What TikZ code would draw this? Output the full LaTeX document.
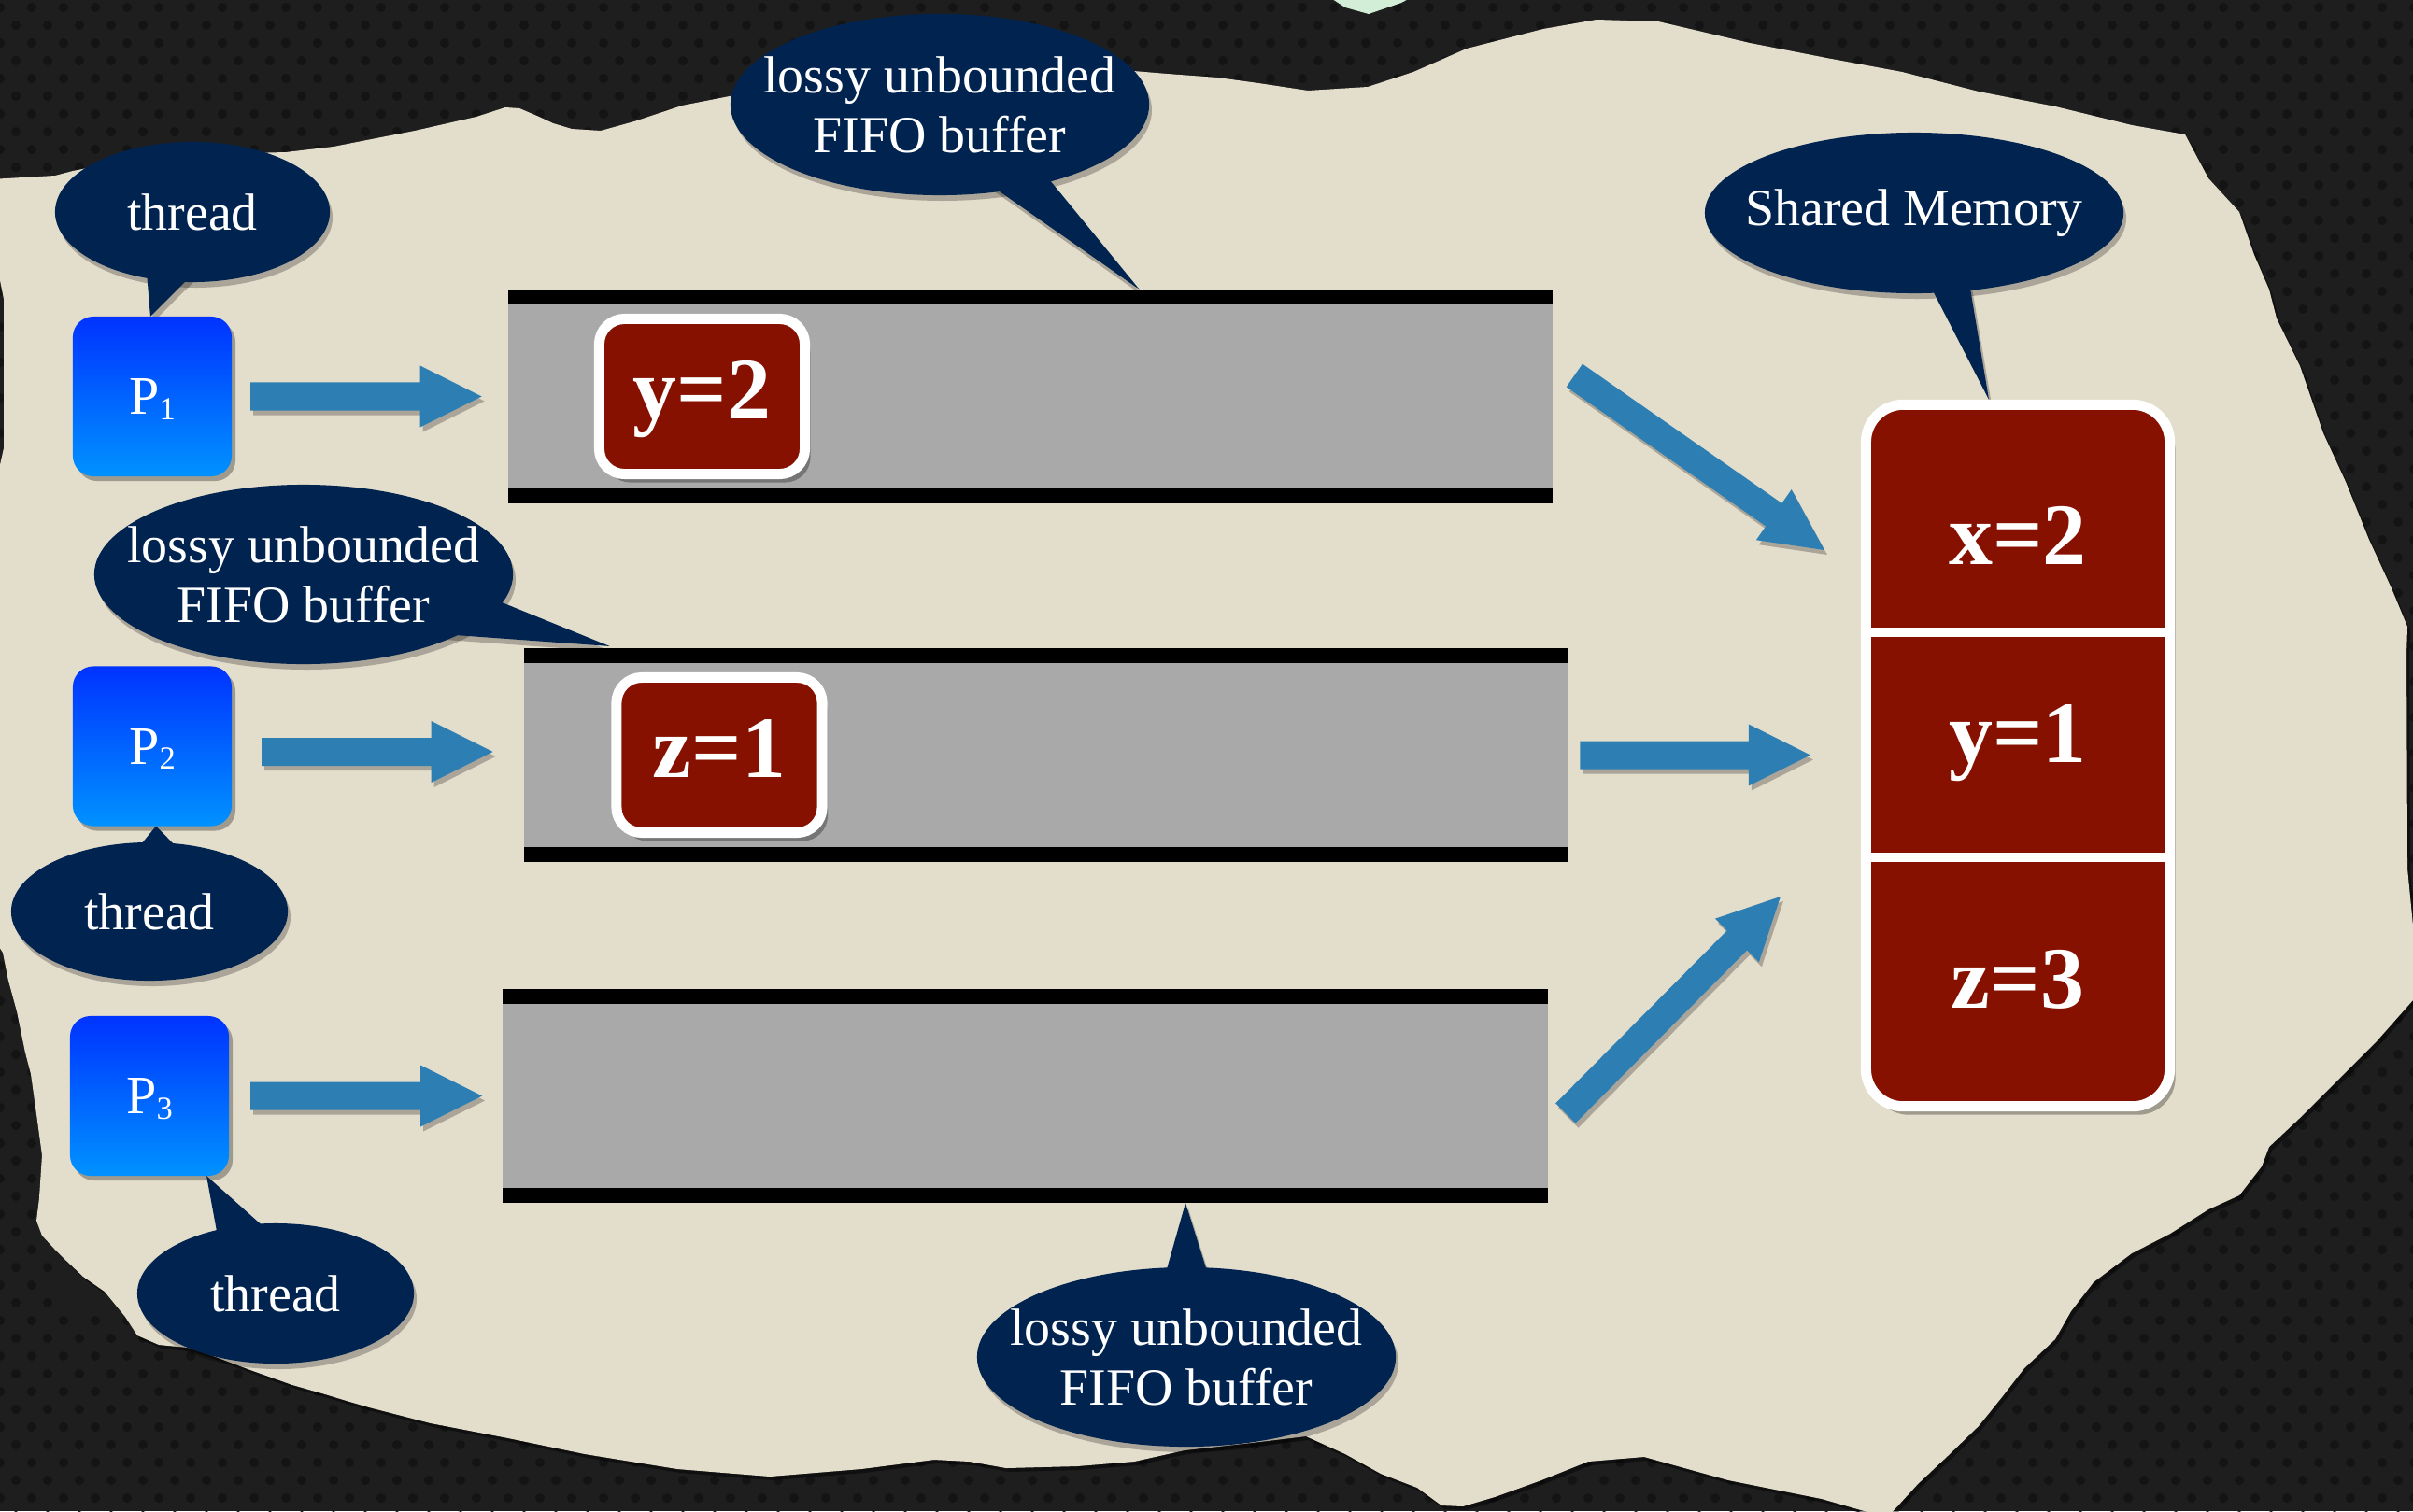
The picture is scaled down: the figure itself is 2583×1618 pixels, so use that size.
\documentclass[tikz,border=0pt]{standalone}
\usepackage{fontspec}
\setmainfont{Liberation Serif}
\usetikzlibrary{calc,shapes.geometric,shadows}

\definecolor{bgdark}{HTML}{1E1E1E}
\definecolor{bgdot}{HTML}{141414}
\definecolor{paper}{HTML}{E3DDCB}
\definecolor{navy}{HTML}{00234F}
\definecolor{memred}{HTML}{871100}
\definecolor{bufgray}{HTML}{A9A9A9}
\definecolor{arrowblue}{HTML}{2C7EB3}
\definecolor{ptop}{HTML}{0033FF}
\definecolor{pbot}{HTML}{0092FF}
\definecolor{mint}{HTML}{D3EED6}

\pgfdeclarelayer{bg}
\pgfdeclarelayer{shadow}
\pgfsetlayers{bg,shadow,main}

\tikzset{
  softshadow/.style={drop shadow={shadow xshift=0.04cm, shadow yshift=-0.05cm, opacity=0.3, fill=black}},
  deepshadow/.style={drop shadow={shadow xshift=0.06cm, shadow yshift=-0.09cm, opacity=0.3, fill=black}},
  proc/.style={rectangle, rounded corners=0.22cm, minimum width=1.70cm, minimum height=1.71cm,
    top color=ptop, bottom color=pbot, draw=none, softshadow, inner sep=0pt, outer sep=0pt},
  buffer/.style={rectangle, fill=bufgray, minimum width=11.18cm, minimum height=2.29cm,
    inner sep=0pt, outer sep=0pt},
  valbox/.style={rectangle, rounded corners=0.27cm, fill=memred, draw=white, line width=0.11cm,
    minimum width=2.20cm, minimum height=1.66cm, deepshadow, inner sep=0pt},
  membox/.style={rectangle, rounded corners=0.40cm, fill=memred, draw=white, line width=0.11cm,
    minimum width=3.25cm, minimum height=7.51cm, deepshadow, inner sep=0pt},
  bubble/.style={ellipse, fill=navy, inner sep=0pt, outer sep=0pt},
  bshadow/.style={fill=black, opacity=0.25, transform canvas={xshift=0.03cm, yshift=-0.06cm}},
  arrowshadow/.style={fill=black, opacity=0.25, transform canvas={xshift=0.03cm, yshift=-0.05cm}},
  bubbletext/.style={text=white, font=\fontsize{15.9}{18.2}\selectfont, align=center, inner sep=0pt},
  valtext/.style={text=white, font=\fontsize{26.7}{30}\selectfont\bfseries, inner sep=0pt, anchor=base},
  ptext/.style={text=white, font=\fontsize{16.5}{18}\selectfont, inner sep=0pt, anchor=base},
}

% process label with its index set as a subscript
\newcommand\proclabel[1]{P\raisebox{-1.6pt}{\fontsize{9.8}{10}\selectfont #1}}

% fat block arrow from #1 to the tip #2, with its shadow on the shadow layer
\newcommand\blockarrow[2]{%
  \coordinate (bahead) at ($(#2)!0.66cm!(#1)$);
  \begin{pgfonlayer}{shadow}
    \fill[arrowshadow] ($(#1)!0.15cm!90:(#2)$) -- ($(bahead)!0.15cm!90:(#2)$) -- ($(bahead)!0.33cm!90:(#2)$)
      -- (#2) -- ($(bahead)!0.33cm!-90:(#2)$) -- ($(bahead)!0.15cm!-90:(#2)$) -- ($(#1)!0.15cm!-90:(#2)$) -- cycle;
  \end{pgfonlayer}
  \fill[arrowblue] ($(#1)!0.15cm!90:(#2)$) -- ($(bahead)!0.15cm!90:(#2)$) -- ($(bahead)!0.33cm!90:(#2)$)
      -- (#2) -- ($(bahead)!0.33cm!-90:(#2)$) -- ($(bahead)!0.15cm!-90:(#2)$) -- ($(#1)!0.15cm!-90:(#2)$) -- cycle;
}

% torn sheet of paper
\def\paperpath{(-10,192) -- (59,188) -- (78,183) -- (153,168) -- (230,165) -- (306,163) -- (357,157)
  -- (408,147) -- (444,140) -- (510,125) -- (541,115) -- (556,116) -- (577,125) -- (592,132) -- (612,138)
  -- (643,140) -- (679,130) -- (730,113) -- (781,103) -- (850,92) -- (950,80) -- (1050,75) -- (1150,72)
  -- (1213,76) -- (1249,79) -- (1303,83) -- (1347,89) -- (1400,97) -- (1464,93) -- (1513,77) -- (1570,52)
  -- (1652,31) -- (1709,21) -- (1775,23) -- (1873,46) -- (1955,62) -- (2036,77) -- (2118,98) -- (2200,114)
  -- (2282,134) -- (2339,144) -- (2364,191) -- (2397,227) -- (2413,273) -- (2429,310) -- (2437,341)
  -- (2462,392) -- (2487,464) -- (2511,516) -- (2536,578) -- (2560,630) -- (2577,671) -- (2576,700)
  -- (2577,930) -- (2590,1063) -- (2544,1115) -- (2503,1156) -- (2462,1197) -- (2429,1228) -- (2421,1249)
  -- (2397,1280) -- (2364,1295) -- (2323,1321) -- (2282,1342) -- (2241,1373) -- (2217,1404) -- (2200,1434)
  -- (2167,1465) -- (2143,1496) -- (2118,1527) -- (2086,1558) -- (2053,1589) -- (2020,1625)
  -- (1950,1605) -- (1850,1585) -- (1760,1560) -- (1700,1565) -- (1650,1585)
  -- (1600,1603) -- (1566,1613) -- (1543,1612) -- (1517,1593) -- (1478,1578) -- (1440,1557)
  -- (1398,1538) -- (1340,1545) -- (1268,1553) -- (1214,1565) -- (1153,1570) -- (1077,1572) -- (1038,1565)
  -- (1000,1563) -- (922,1573) -- (824,1581) -- (725,1573) -- (626,1557) -- (544,1540) -- (461,1524)
  -- (395,1507) -- (371,1500) -- (348,1493) -- (313,1483) -- (268,1467) -- (223,1450) -- (201,1443)
  -- (170,1440) -- (147,1430) -- (134,1410) -- (112,1383) -- (89,1367) -- (71,1350) -- (58,1337)
  -- (45,1323) -- (39,1307) -- (42,1283) -- (45,1237) -- (40,1200) -- (33,1150) -- (27,1127) -- (18,1083)
  -- (9,1050) -- (3,1020) -- (-10,1000) -- (-5,520) -- (4,480) -- (4,320) -- (0,300) -- cycle}

\begin{document}
\begin{tikzpicture}[x=0.01cm, y=-0.01cm]
\useasboundingbox (0,0) rectangle (2583,1618);

\begin{pgfonlayer}{bg}
  % perforated dark backdrop
  \fill[bgdark] (0,0) rectangle (2583,1618);
  \foreach \r in {0,...,11} {\foreach \c in {0,...,76} {
    \fill[bgdot] ({\c*34+mod(\r,2)*17},{\r*19+8}) circle (5);}}
  \foreach \r in {74,...,85} {\foreach \c in {0,...,76} {
    \fill[bgdot] ({\c*34+mod(\r,2)*17},{\r*19+8}) circle (5);}}
  \foreach \r in {12,...,73} {\foreach \c in {0,1,64,65,66,67,68,69,70,71,72,73,74,75,76} {
    \fill[bgdot] ({\c*34+mod(\r,2)*17},{\r*19+8}) circle (5);}}
  \fill[mint] (1420,-5) -- (1515,-5) -- (1500,3) -- (1465,15) -- (1440,8) -- cycle;
  % paper
  \fill[black, opacity=0.45, transform canvas={xshift=0.03cm, yshift=-0.04cm}] \paperpath;
  \fill[paper] \paperpath;

  % the three buffers
  \node[buffer] (buf1) at (1103,424.5) {};
  \node[buffer] (buf2) at (1120,808.5) {};
  \node[buffer] (buf3) at (1097.5,1173.5) {};
  \foreach \b in {buf1,buf2,buf3} {
    \fill[black] (\b.north west) rectangle ($(\b.north east)+(0,16)$);
    \fill[black] ($(\b.south west)+(0,-16)$) rectangle (\b.south east);
  }
\end{pgfonlayer}

% processes
\node[proc] (P1) at (163,424.5) {};
\node[proc] (P2) at (163,799) {};
\node[proc] (P3) at (160,1173.5) {};
\node[ptext] (P1t) at ($(P1.center)+(0,19)$) {\proclabel{1}};
\node[ptext] (P2t) at ($(P2.center)+(0,19)$) {\proclabel{2}};
\node[ptext] (P3t) at ($(P3.center)+(0,19)$) {\proclabel{3}};

% pending writes in the buffers
\node[valbox] (v1) at (751.5,424.5) {};
\node[valtext] (v1t) at ($(v1.center)+(0,23.5)$) {y=2};
\node[valbox] (v2) at (770,808.5) {};
\node[valtext] (v2t) at ($(v2.center)+(0,23.5)$) {z=1};

% shared memory
\node[membox] (mem) at (2160,809) {};
\draw[white, line width=0.10cm] ($(mem.west)+(0,-132)$) -- ($(mem.east)+(0,-132)$);
\draw[white, line width=0.10cm] ($(mem.west)+(0,109)$) -- ($(mem.east)+(0,109)$);
\node[valtext] (mx) at ($(mem.center)+(0,-205)$) {x=2};
\node[valtext] (my) at ($(mem.center)+(0,7)$) {y=1};
\node[valtext] (mz) at ($(mem.center)+(0,270)$) {z=3};

% flow arrows
\coordinate (a1s) at ($(P1.east)+(20,0)$);
\coordinate (a1e) at ($(buf1.west)+(-28,0)$);
\blockarrow{a1s}{a1e}
\coordinate (a2s) at ($(P2.east)+(32,6)$);
\coordinate (a2e) at ($(P2.east -| buf2.west)+(-33,6)$);
\blockarrow{a2s}{a2e}
\coordinate (a3s) at ($(P3.east)+(23,0)$);
\coordinate (a3e) at ($(buf3.west)+(-22,0)$);
\blockarrow{a3s}{a3e}
\coordinate (a4s) at ($(buf1.east)+(23,-22.5)$);
\coordinate (a4e) at ($(mem.west)+(-39,-220)$);
\blockarrow{a4s}{a4e}
\coordinate (a5s) at ($(buf2.east)+(12,0)$);
\coordinate (a5e) at ($(buf2.east -| mem.west)+(-54,0)$);
\blockarrow{a5s}{a5e}
\coordinate (a6s) at ($(buf3.east)+(19,18.5)$);
\coordinate (a6e) at ($(mem.west)+(-86,151)$);
\blockarrow{a6s}{a6e}

% speech bubbles
\node[bubble, minimum width=2.94cm, minimum height=1.50cm] (b1) at (206,227) {};
\node[bubbletext] (b1t) at (b1.center) {thread};
\fill[navy] ($(b1.center)+(-50,53)$) -- ($(P1.north)+(-2,0)$) -- ($(b1.center)+(4,63)$) -- cycle;

\node[bubble, minimum width=4.48cm, minimum height=1.94cm] (b2) at (1006,112) {};
\node[bubbletext] (b2t) at (b2.center) {lossy unbounded\\FIFO buffer};
\fill[navy] ($(b2.center)+(34,72)$) -- ($(buf1.north west)+(676,0)$) -- ($(b2.center)+(99,58)$) -- cycle;

\node[bubble, minimum width=4.48cm, minimum height=1.92cm] (b3) at (325,615) {};
\node[bubbletext] (b3t) at (b3.center) {lossy unbounded\\FIFO buffer};
\fill[navy] ($(b3.center)+(185,19)$) -- ($(buf2.north west)+(92,-2)$) -- ($(b3.center)+(135,63)$) -- cycle;

\node[bubble, minimum width=2.96cm, minimum height=1.48cm] (b4) at (160,976) {};
\node[bubbletext] (b4t) at (b4.center) {thread};
\fill[navy] ($(b4.center)+(-18,-61)$) -- ($(P2.south)+(4,0)$) -- ($(b4.center)+(37,-61)$) -- cycle;

\node[bubble, minimum width=2.96cm, minimum height=1.50cm] (b5) at (295,1385) {};
\node[bubbletext] (b5t) at (b5.center) {thread};
\fill[navy] ($(b5.center)+(-59,-45)$) -- ($(P3.south east)+(-24,0)$) -- ($(b5.center)+(0,-60)$) -- cycle;

\node[bubble, minimum width=4.48cm, minimum height=1.92cm] (b6) at (1270,1453) {};
\node[bubbletext] (b6t) at (b6.center) {lossy unbounded\\FIFO buffer};
\fill[navy] ($(b6.center)+(-27,-73)$) -- ($(buf3.south)+(171.5,0)$) -- ($(b6.center)+(28,-73)$) -- cycle;

\node[bubble, minimum width=4.48cm, minimum height=1.72cm] (b7) at (2049,228) {};
\node[bubbletext] (b7t) at (b7.center) {Shared Memory};
\fill[navy] ($(b7.center)+(9,62)$) -- ($(mem.north)+(-31,0)$) -- ($(b7.center)+(56,57)$) -- cycle;

% bubble shadows
\begin{pgfonlayer}{shadow}
  \fill[bshadow] (b1.center) ellipse [x radius=147, y radius=75];
  \fill[bshadow] ($(b1.center)+(-50,53)$) -- ($(P1.north)+(-2,0)$) -- ($(b1.center)+(4,63)$) -- cycle;
  \fill[bshadow] (b2.center) ellipse [x radius=224, y radius=97];
  \fill[bshadow] ($(b2.center)+(34,72)$) -- ($(buf1.north west)+(676,0)$) -- ($(b2.center)+(99,58)$) -- cycle;
  \fill[bshadow] (b3.center) ellipse [x radius=224, y radius=96];
  \fill[bshadow] ($(b3.center)+(185,19)$) -- ($(buf2.north west)+(92,-2)$) -- ($(b3.center)+(135,63)$) -- cycle;
  \fill[bshadow] (b4.center) ellipse [x radius=148, y radius=74];
  \fill[bshadow] ($(b4.center)+(-18,-61)$) -- ($(P2.south)+(4,0)$) -- ($(b4.center)+(37,-61)$) -- cycle;
  \fill[bshadow] (b5.center) ellipse [x radius=148, y radius=75];
  \fill[bshadow] ($(b5.center)+(-59,-45)$) -- ($(P3.south east)+(-24,0)$) -- ($(b5.center)+(0,-60)$) -- cycle;
  \fill[bshadow] (b6.center) ellipse [x radius=224, y radius=96];
  \fill[bshadow] ($(b6.center)+(-27,-73)$) -- ($(buf3.south)+(171.5,0)$) -- ($(b6.center)+(28,-73)$) -- cycle;
  \fill[bshadow] (b7.center) ellipse [x radius=224, y radius=86];
  \fill[bshadow] ($(b7.center)+(9,62)$) -- ($(mem.north)+(-31,0)$) -- ($(b7.center)+(56,57)$) -- cycle;
\end{pgfonlayer}
\end{tikzpicture}
\end{document}
